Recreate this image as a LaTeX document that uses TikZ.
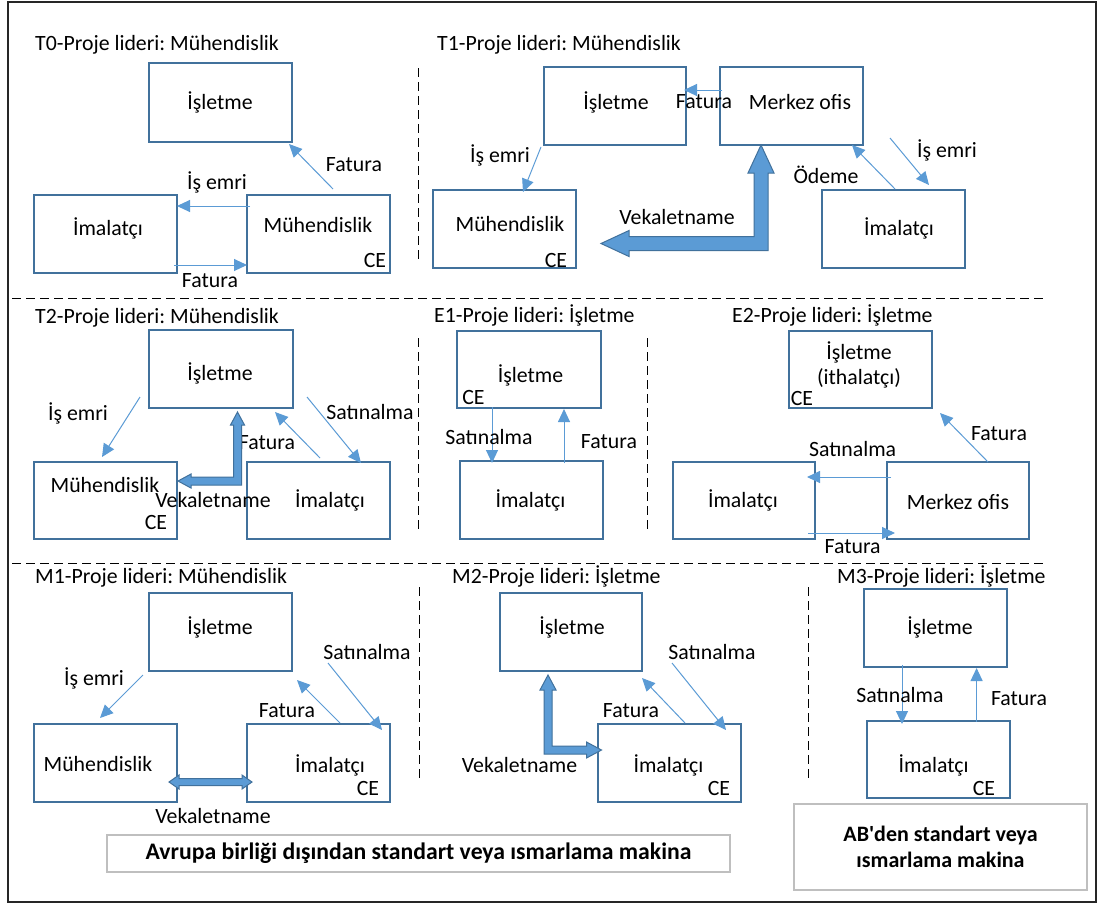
\documentclass[tikz,border=0pt]{standalone}
\usepackage{fontspec}
\setmainfont{Carlito}
\newfontfamily\abfont{Carlito}[Ligatures=TeXOff]
\frenchspacing
\usetikzlibrary{arrows.meta,calc}
\definecolor{boxblue}{RGB}{65,113,156}
\definecolor{arrblue}{RGB}{91,155,213}
\definecolor{framegray}{RGB}{38,38,38}
\definecolor{lightgray}{RGB}{191,191,191}
\tikzset{
  box/.style={draw=boxblue, line width=2pt, inner sep=0pt, outer sep=0pt},
  txt/.style={inner sep=0pt, font=\frenchspacing\fontsize{21.8}{24}\selectfont, text=black},
  ttl/.style={txt, anchor=base west},
  arr/.style={draw=arrblue, line width=1pt, -{Triangle[length=13pt,width=12pt]}},
  blk/.style={fill=arrblue, draw=boxblue, line width=1pt, line join=miter},
  sep/.style={draw=black, line width=0.8pt, dash pattern=on 9pt off 5pt},
  gbox/.style={draw=lightgray, line width=2pt, inner sep=0pt, outer sep=0pt, align=center},
}
\newcommand\bx[5]{%
  \pgfmathsetmacro\myBW{#4-#2}\pgfmathsetmacro\myBH{#5-#3}%
  \pgfmathsetmacro\myCX{(#2+#4)/2}\pgfmathsetmacro\myCY{(#3+#5)/2}%
  \node[box, minimum width=\myBW pt, minimum height=\myBH pt] (#1) at (\myCX,\myCY) {};}
% L-shaped block arrow: #1 top tip, #2 side tip, #3 side sign, #4 half shaft, #5 half head, #6 head length
\newcommand\Lblk[6]{%
  \path[blk] let \p1=(#1), \p2=(#2) in
  (\x1,\y1) -- ({\x1+(#3)*#5pt},{\y1-#6pt}) -- ({\x1+(#3)*#4pt},{\y1-#6pt})
  -- ({\x1+(#3)*#4pt},{\y2+#4pt}) -- ({\x2-(#3)*#6pt},{\y2+#4pt})
  -- ({\x2-(#3)*#6pt},{\y2+#5pt}) -- (\x2,\y2) -- ({\x2-(#3)*#6pt},{\y2-#5pt})
  -- ({\x2-(#3)*#6pt},{\y2-#4pt}) -- ({\x1-(#3)*#4pt},{\y2-#4pt})
  -- ({\x1-(#3)*#4pt},{\y1-#6pt}) -- ({\x1-(#3)*#5pt},{\y1-#6pt}) -- cycle;}
% straight horizontal double block arrow: #1 left tip, #2 right tip, #3 half shaft, #4 half head, #5 head length
\newcommand\Hblk[5]{%
  \path[blk] let \p1=(#1), \p2=(#2) in
  (\x1,\y1) -- ({\x1+#5pt},{\y1+#4pt}) -- ({\x1+#5pt},{\y1+#3pt}) -- ({\x2-#5pt},{\y1+#3pt})
  -- ({\x2-#5pt},{\y1+#4pt}) -- (\x2,\y1) -- ({\x2-#5pt},{\y1-#4pt}) -- ({\x2-#5pt},{\y1-#3pt})
  -- ({\x1+#5pt},{\y1-#3pt}) -- ({\x1+#5pt},{\y1-#4pt}) -- cycle;}
\begin{document}
\begin{tikzpicture}[x=1pt,y=-1pt]
\useasboundingbox (0,0) rectangle (1097,906);
\fill[white] (0,0) rectangle (1097,906);
\draw[framegray, line width=2pt] (7.5,1.5) rectangle (1095.5,902);
% separators
\draw[sep] (12,298) -- (1045,298);
\draw[sep] (12,563) -- (1045,563);
\draw[sep] (418,68) -- (418,263);
\draw[sep] (418,338) -- (418,531);
\draw[sep] (647,338) -- (647,532);
\draw[sep] (419,587) -- (419,782);
\draw[sep] (808,587) -- (808,782);

% ---------------- T0
\node[ttl] (tT0) at (35,50) {T0-Proje lideri: Mühendislik};
\bx{is0}{149}{63}{292}{142}
\bx{im0}{34}{195}{177}{273}
\bx{mu0}{247}{195}{390}{273}
\node[txt] (is0t) at (220,102) {İşletme};
\node[txt] (im0t) at (108,228) {İmalatçı};
\node[txt] (mu0t) at (318,225) {Mühendislik};
\node[txt] (mu0ce) at (375,260) {CE};
\draw[arr] ($(mu0.north west)+(3,11)$) -- ($(im0.north east)+(0,11)$);
\node[txt] (l0a) at (217,182) {İş emri};
\draw[arr] ($(im0.south east)+(-3,-8)$) -- ($(mu0.south west)+(0,-8)$);
\node[txt] (l0b) at (210,281) {Fatura};
\draw[arr] ($(mu0.north west)+(86,-6)$) -- ($(is0.south east)+(-3,2)$);
\node[txt] (l0c) at (354,165) {Fatura};

% ---------------- T1
\node[ttl] (tT1) at (437,50) {T1-Proje lideri: Mühendislik};
\bx{is1}{544}{67}{686}{145}
\bx{mo1}{720}{67}{863}{145}
\bx{mu1}{433}{190}{576}{268}
\bx{im1}{822}{190}{965}{268}
\node[txt] (is1t) at (616,102) {İşletme};
\node[txt] (mo1t) at (800,102) {Merkez ofis};
\node[txt] (mu1t) at (510,224) {Mühendislik};
\node[txt] (mu1ce) at (556,260) {CE};
\node[txt] (im1t) at (899,228) {İmalatçı};
\draw[arr] ($(mo1.north west)+(2,23)$) -- ($(is1.north east)+(-2,23)$);
\node[txt] (l1a) at (704,102) {Fatura};
\draw[arr] ($(is1.south west)+(-3,2)$) -- ($(mu1.north west)+(90,2)$);
\node[txt] (l1b) at (500,155) {İş emri};
\draw[arr] ($(im1.north west)+(73,-1)$) -- ($(mo1.south west)+(132,0)$);
\node[txt] (l1c) at (826,175) {Ödeme};
\draw[arr] ($(mo1.south east)+(27,-7)$) -- ($(im1.north west)+(107,-5)$);
\node[txt] (l1d) at (947,150) {İş emri};
\Lblk{$(mo1.south west)+(41,0)$}{$(mu1.east)+(25,14.5)$}{-1}{7}{13}{28}
\node[txt] (l1e) at (677,217) {Vekaletname};

% ---------------- T2
\node[ttl] (tT2) at (35,323) {T2-Proje lideri: Mühendislik};
\bx{is2}{149}{330}{293}{408}
\bx{mu2}{34}{462}{177}{539}
\bx{im2}{247}{462}{390}{539}
\node[txt] (is2t) at (220,373) {İşletme};
\node[txt] (mu2t) at (105,485) {Mühendislik};
\node[txt] (mu2ce) at (156,522) {CE};
\node[txt] (im2t) at (330,500) {İmalatçı};
\draw[arr] ($(is2.south west)+(-9,-11)$) -- ($(mu2.north west)+(68,-5)$);
\node[txt] (l2a) at (78,413) {İş emri};
\draw[arr] ($(is2.south east)+(14,-11)$) -- ($(im2.north west)+(114,1)$);
\node[txt] (l2b) at (370,412) {Satınalma};
\draw[arr] ($(im2.north west)+(73,-4)$) -- ($(is2.south east)+(-18,4)$);
\node[txt] (l2c) at (267,443) {Fatura};
\Lblk{$(is2.south west)+(88.5,4)$}{$(mu2.north east)+(1,19)$}{-1}{4}{7}{13}
\node[txt] (l2d) at (213,500) {Vekaletname};

% ---------------- E1
\node[ttl] (tE1) at (434,322) {E1-Proje lideri: İşletme};
\bx{ise1}{457}{331}{600.6}{408}
\bx{ime1}{460}{461}{603}{539}
\node[txt] (ise1t) at (530.5,375) {İşletme};
\node[txt] (ise1ce) at (473.5,397) {CE};
\node[txt] (ime1t) at (530.5,500) {İmalatçı};
\draw[arr] ($(ise1.south west)+(35,-1)$) -- ($(ime1.north west)+(32,2)$);
\node[txt] (le1a) at (489,437) {Satınalma};
\draw[arr] ($(ime1.north west)+(104,2)$) -- ($(ise1.south west)+(107,1)$);
\node[txt] (le1b) at (609,442) {Fatura};

% ---------------- E2
\node[ttl] (tE2) at (732,322) {E2-Proje lideri: İşletme};
\bx{ise2}{789}{331}{931.5}{408}
\bx{ime2}{673}{462}{815}{539}
\bx{moe2}{887}{462}{1029}{539}
\node[txt] (ise2t) at (859,352) {İşletme};
\node[txt] (ise2u) at (859,378) {(ithalatçı)};
\node[txt] (ise2ce) at (802,398) {CE};
\node[txt] (ime2t) at (743,500) {İmalatçı};
\node[txt] (moe2t) at (958,502) {Merkez ofis};
\draw[arr] ($(moe2.north west)+(4,15)$) -- ($(ime2.north east)+(-8,15)$);
\node[txt] (le2a) at (852.6,449) {Satınalma};
\draw[arr] ($(ime2.south east)+(-7,-6)$) -- ($(moe2.south west)+(8,-6)$);
\node[txt] (le2b) at (852.6,547) {Fatura};
\draw[arr] ($(moe2.north west)+(101,0)$) -- ($(ise2.south east)+(8.5,5)$);
\node[txt] (le2c) at (999,434) {Fatura};

% ---------------- M1
\node[ttl] (tM1) at (35,583) {M1-Proje lideri: Mühendislik};
\bx{ism1}{149}{593}{292}{671}
\bx{mum1}{34}{724}{177}{802}
\bx{imm1}{247}{724}{390}{802}
\node[txt] (ism1t) at (220,627) {İşletme};
\node[txt] (mum1t) at (98,764) {Mühendislik};
\node[txt] (imm1t) at (330,765) {İmalatçı};
\node[txt] (imm1ce) at (368,788) {CE};
\draw[arr] ($(ism1.south west)+(-6,4)$) -- ($(mum1.north west)+(66,-6)$);
\node[txt] (lm1a) at (94,678) {İş emri};
\draw[arr] ($(ism1.south east)+(36,-8)$) -- ($(imm1.north east)+(-8,6)$);
\node[txt] (lm1b) at (367,652) {Satınalma};
\draw[arr] ($(imm1.north west)+(93,-1)$) -- ($(ism1.south east)+(5,9)$);
\node[txt] (lm1c) at (287,711) {Fatura};
\Hblk{$(mum1.south east)+(-8,-20)$}{$(imm1.south west)+(5,-20)$}{3.5}{7}{10}
\node[txt] (lm1d) at (213,816) {Vekaletname};

% ---------------- M2
\node[ttl] (tM2) at (452,583) {M2-Proje lideri: İşletme};
\bx{ism2}{500}{593}{642}{671}
\bx{imm2}{598}{724}{741}{802}
\node[txt] (ism2t) at (572,627) {İşletme};
\node[txt] (imm2t) at (668.5,765) {İmalatçı};
\node[txt] (imm2ce) at (719,788) {CE};
\draw[arr] ($(imm2.north west)+(87,-1)$) -- ($(ism2.south east)+(0,7)$);
\node[txt] (lm2a) at (631,711) {Fatura};
\draw[arr] ($(ism2.south east)+(30,-8)$) -- ($(imm2.north east)+(-15,6)$);
\node[txt] (lm2b) at (712,652) {Satınalma};
\Lblk{$(ism2.south west)+(48,4)$}{$(imm2.north west)+(3.5,26)$}{1}{4}{8}{15}
\node[txt] (lm2c) at (519.5,765) {Vekaletname};

% ---------------- M3
\node[ttl] (tM3) at (837,583) {M3-Proje lideri: İşletme};
\bx{ism3}{864}{589}{1007}{667}
\bx{imm3}{867}{721}{1009.5}{798}
\node[txt] (ism3t) at (940,627) {İşletme};
\node[txt] (imm3t) at (933.6,765) {İmalatçı};
\node[txt] (imm3ce) at (984,788) {CE};
\draw[arr] ($(ism3.south west)+(38,-2)$) -- ($(imm3.north west)+(35,3)$);
\node[txt] (lm3a) at (900,695) {Satınalma};
\draw[arr] ($(imm3.north west)+(109.6,1)$) -- ($(ism3.south west)+(112.6,1)$);
\node[txt] (lm3b) at (1019,699) {Fatura};

% ---------------- bottom boxes
\node[gbox, minimum width=623pt, minimum height=37pt, font=\bfseries\fontsize{23.7}{26}\selectfont] (eu) at (418.5,853.5) {Avrupa birliği dışından standart veya ısmarlama makina};
\node[gbox, minimum width=293pt, minimum height=86pt, font=\abfont\bfseries\fontsize{22}{26}\selectfont] (ab) at (940.5,847) {AB'den standart veya\\ısmarlama makina};
\end{tikzpicture}
\end{document}
